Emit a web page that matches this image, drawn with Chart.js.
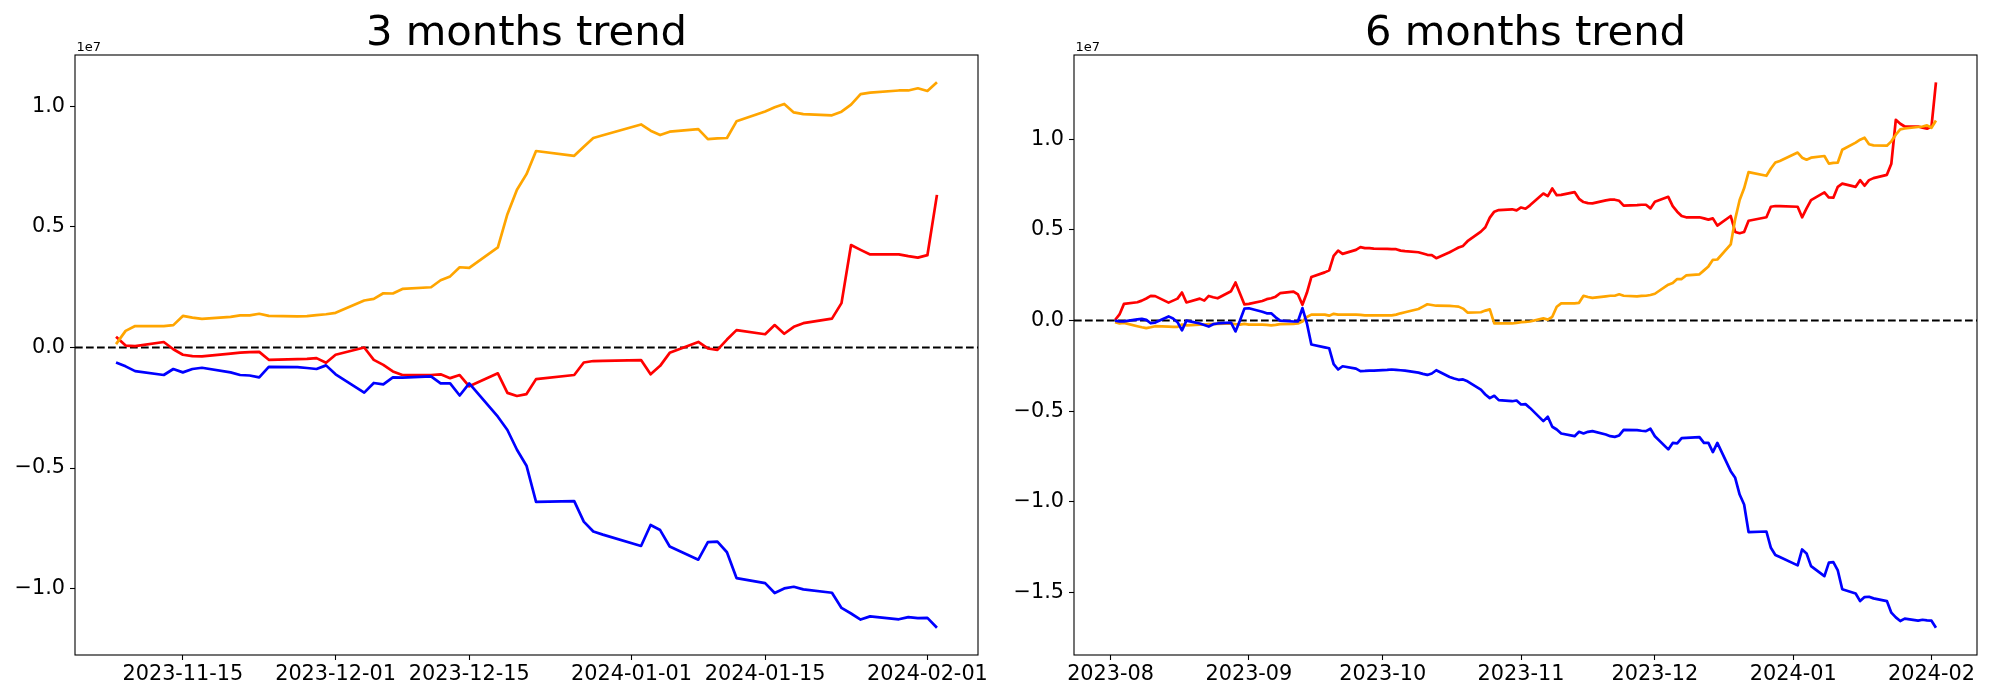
<!DOCTYPE html>
<html>
<head>
<meta charset="utf-8">
<title>trend</title>
<script src="https://cdn.jsdelivr.net/npm/chart.js@4.4.1/dist/chart.umd.min.js"></script>
<style>
  html, body { margin: 0; padding: 0; background: #fff; }
  #wrap { position: relative; width: 2000px; height: 700px; }
  .box { position: absolute; top: 0; width: 1000px; height: 700px; }
  canvas { display: block; }
</style>
</head>
<body>
<div id="wrap">
  <div class="box" style="left:0px"><canvas id="chart3m" width="1000" height="700"></canvas></div>
  <div class="box" style="left:1000px"><canvas id="chart6m" width="1000" height="700"></canvas></div>
</div>
<script>
// values are in units of 1e7

// ---- 3 months ----
const dates3m = [
  "2023-11-08","2023-11-09","2023-11-10","2023-11-13","2023-11-14","2023-11-15","2023-11-16","2023-11-17",
  "2023-11-20","2023-11-21","2023-11-22","2023-11-23","2023-11-24","2023-11-27","2023-11-28","2023-11-29","2023-11-30",
  "2023-12-01","2023-12-04","2023-12-05","2023-12-06","2023-12-07","2023-12-08","2023-12-11","2023-12-12","2023-12-13",
  "2023-12-14","2023-12-15","2023-12-18","2023-12-19","2023-12-20","2023-12-21","2023-12-22","2023-12-26","2023-12-27",
  "2023-12-28","2023-12-29",
  "2024-01-02","2024-01-03","2024-01-04","2024-01-05","2024-01-08","2024-01-09","2024-01-10","2024-01-11","2024-01-12",
  "2024-01-15","2024-01-16","2024-01-17","2024-01-18","2024-01-19","2024-01-22","2024-01-23","2024-01-24","2024-01-25",
  "2024-01-26","2024-01-29","2024-01-30","2024-01-31","2024-02-01","2024-02-02"
];
const orange3m = [
  0.014, 0.069, 0.089, 0.089, 0.093, 0.131, 0.124, 0.119, 0.127, 0.133, 0.133, 0.140, 0.131, 0.129, 0.130, 0.134, 0.138,
  0.144, 0.195, 0.202, 0.225, 0.224, 0.243, 0.250, 0.279, 0.295, 0.333, 0.330, 0.415, 0.553, 0.654, 0.719, 0.815, 0.795,
  0.833, 0.869, 0.880,
  0.925, 0.899, 0.881, 0.895, 0.906, 0.864, 0.867, 0.869, 0.938, 0.979, 0.996, 1.010, 0.975, 0.968, 0.963, 0.978, 1.007,
  1.051, 1.057, 1.066, 1.066, 1.075, 1.064, 1.100
];
const red3m = [
  0.045, 0.008, 0.006, 0.023, -0.007, -0.030, -0.036, -0.037, -0.025, -0.021, -0.019, -0.018, -0.051, -0.048, -0.047, -0.044, -0.063,
  -0.030, 0.000, -0.051, -0.072, -0.099, -0.114, -0.114, -0.111, -0.127, -0.114, -0.161, -0.107, -0.188, -0.201, -0.193, -0.131, -0.114,
  -0.062, -0.056, -0.055,
  -0.052, -0.111, -0.076, -0.022, 0.023, -0.004, -0.010, 0.033, 0.072, 0.055, 0.093, 0.057, 0.086, 0.101, 0.120, 0.184, 0.425,
  0.405, 0.386, 0.386, 0.379, 0.373, 0.383, 0.633
];
const blue3m = [
  -0.062, -0.078, -0.098, -0.114, -0.089, -0.103, -0.089, -0.084, -0.103, -0.114, -0.116, -0.124, -0.080, -0.081, -0.085, -0.089, -0.074,
  -0.111, -0.187, -0.147, -0.153, -0.124, -0.125, -0.120, -0.149, -0.149, -0.199, -0.149, -0.287, -0.342, -0.424, -0.490, -0.640, -0.637,
  -0.722, -0.763, -0.776,
  -0.823, -0.736, -0.757, -0.825, -0.880, -0.807, -0.805, -0.849, -0.956, -0.977, -1.018, -0.999, -0.992, -1.003, -1.017, -1.080, -1.103,
  -1.128, -1.115, -1.127, -1.118, -1.122, -1.121, -1.162
];
const xTicks3m = ["2023-11-15", "2023-12-01", "2023-12-15", "2024-01-01", "2024-01-15", "2024-02-01"];
const yTicks3m = [-1.0, -0.5, 0.0, 0.5, 1.0];

// ---- 6 months ----
const dates6m = [
  "2023-08-02","2023-08-03","2023-08-04","2023-08-07","2023-08-08","2023-08-09","2023-08-10","2023-08-11","2023-08-14","2023-08-15",
  "2023-08-16","2023-08-17","2023-08-18","2023-08-21","2023-08-22","2023-08-23","2023-08-24","2023-08-25","2023-08-28","2023-08-29",
  "2023-08-30","2023-08-31",
  "2023-09-01","2023-09-04","2023-09-05","2023-09-06","2023-09-07","2023-09-08","2023-09-11","2023-09-12","2023-09-13","2023-09-14",
  "2023-09-15","2023-09-18","2023-09-19","2023-09-20","2023-09-21","2023-09-22","2023-09-25","2023-09-26","2023-09-27","2023-09-28",
  "2023-09-29",
  "2023-10-02","2023-10-03","2023-10-04","2023-10-05","2023-10-06","2023-10-09","2023-10-10","2023-10-11","2023-10-12","2023-10-13",
  "2023-10-16","2023-10-17","2023-10-18","2023-10-19","2023-10-20","2023-10-23","2023-10-24","2023-10-25","2023-10-26","2023-10-27",
  "2023-10-30","2023-10-31",
  "2023-11-01","2023-11-02","2023-11-03","2023-11-06","2023-11-07","2023-11-08","2023-11-09","2023-11-10","2023-11-13","2023-11-14",
  "2023-11-15","2023-11-16","2023-11-17","2023-11-20","2023-11-21","2023-11-22","2023-11-23","2023-11-24","2023-11-27","2023-11-28",
  "2023-11-29","2023-11-30",
  "2023-12-01","2023-12-04","2023-12-05","2023-12-06","2023-12-07","2023-12-08","2023-12-11","2023-12-12","2023-12-13","2023-12-14",
  "2023-12-15","2023-12-18","2023-12-19","2023-12-20","2023-12-21","2023-12-22","2023-12-26","2023-12-27","2023-12-28","2023-12-29",
  "2024-01-02","2024-01-03","2024-01-04","2024-01-05","2024-01-08","2024-01-09","2024-01-10","2024-01-11","2024-01-12","2024-01-15",
  "2024-01-16","2024-01-17","2024-01-18","2024-01-19","2024-01-22","2024-01-23","2024-01-24","2024-01-25","2024-01-26","2024-01-29",
  "2024-01-30","2024-01-31","2024-02-01","2024-02-02"
];
const orange6m = [
  -0.009, -0.016, -0.013, -0.031, -0.037, -0.042, -0.037, -0.031, -0.033, -0.035,
  -0.035, -0.022, -0.026, -0.022, -0.022, -0.020, -0.020, -0.018, -0.016, -0.020,
  -0.022, -0.018,
  -0.022, -0.022, -0.024, -0.027, -0.024, -0.020, -0.018, -0.016, -0.005, 0.020,
  0.033, 0.033, 0.027, 0.037, 0.033, 0.033, 0.033, 0.031, 0.029, 0.029,
  0.029,
  0.029, 0.029, 0.033, 0.040, 0.046, 0.064, 0.077, 0.090, 0.086, 0.082,
  0.081, 0.079, 0.077, 0.066, 0.044, 0.046, 0.055, 0.062, -0.015, -0.016,
  -0.016, -0.013,
  -0.009, -0.007, -0.005, 0.012, 0.005, 0.021, 0.076, 0.095, 0.095, 0.098,
  0.137, 0.130, 0.125, 0.134, 0.137, 0.137, 0.145, 0.137, 0.134, 0.136,
  0.137, 0.141,
  0.148, 0.198, 0.207, 0.229, 0.229, 0.249, 0.255, 0.277, 0.299, 0.335,
  0.337, 0.420, 0.560, 0.665, 0.730, 0.819, 0.799, 0.839, 0.872, 0.881,
  0.927, 0.899, 0.888, 0.899, 0.908, 0.866, 0.870, 0.872, 0.943, 0.982,
  0.998, 1.009, 0.973, 0.967, 0.965, 0.989, 1.026, 1.055, 1.060, 1.068,
  1.071, 1.077, 1.064, 1.104
];
const red6m = [
  0.003, 0.034, 0.092, 0.101, 0.110, 0.122, 0.136, 0.135, 0.099, 0.110,
  0.121, 0.155, 0.100, 0.121, 0.110, 0.136, 0.129, 0.123, 0.162, 0.210,
  0.149, 0.089,
  0.092, 0.108, 0.118, 0.123, 0.132, 0.151, 0.160, 0.144, 0.087, 0.153,
  0.240, 0.266, 0.277, 0.357, 0.386, 0.368, 0.390, 0.405, 0.400, 0.400,
  0.397,
  0.396, 0.394, 0.394, 0.386, 0.383, 0.377, 0.370, 0.363, 0.361, 0.344,
  0.377, 0.390, 0.403, 0.412, 0.438, 0.491, 0.515, 0.568, 0.601, 0.610,
  0.614, 0.608,
  0.624, 0.617, 0.636, 0.701, 0.687, 0.729, 0.692, 0.694, 0.709, 0.672,
  0.654, 0.648, 0.647, 0.663, 0.667, 0.667, 0.661, 0.634, 0.637, 0.639,
  0.639, 0.619,
  0.656, 0.683, 0.632, 0.601, 0.577, 0.570, 0.570, 0.564, 0.557, 0.564,
  0.524, 0.577, 0.489, 0.482, 0.489, 0.551, 0.570, 0.628, 0.632, 0.632,
  0.628, 0.570, 0.619, 0.665, 0.707, 0.679, 0.678, 0.738, 0.756, 0.738,
  0.775, 0.744, 0.775, 0.786, 0.804, 0.866, 1.108, 1.086, 1.071, 1.071,
  1.064, 1.059, 1.071, 1.315
];
const blue6m = [
  0.000, -0.005, -0.004, 0.007, 0.009, 0.004, -0.015, -0.011, 0.023, 0.011,
  -0.009, -0.054, 0.000, -0.016, -0.024, -0.033, -0.020, -0.016, -0.011, -0.060,
  0.000, 0.066,
  0.068, 0.049, 0.040, 0.040, 0.018, 0.000, -0.005, -0.004, 0.069, -0.015,
  -0.132, -0.148, -0.153, -0.240, -0.270, -0.252, -0.265, -0.279, -0.278, -0.276,
  -0.276,
  -0.272, -0.270, -0.272, -0.274, -0.276, -0.287, -0.294, -0.300, -0.292, -0.274,
  -0.311, -0.320, -0.327, -0.325, -0.335, -0.381, -0.408, -0.428, -0.415, -0.439,
  -0.445, -0.441,
  -0.463, -0.461, -0.482, -0.555, -0.531, -0.586, -0.601, -0.623, -0.638, -0.614,
  -0.623, -0.614, -0.610, -0.629, -0.638, -0.642, -0.634, -0.603, -0.605, -0.608,
  -0.610, -0.597,
  -0.638, -0.711, -0.675, -0.678, -0.649, -0.647, -0.643, -0.675, -0.675, -0.726,
  -0.675, -0.831, -0.868, -0.960, -1.015, -1.167, -1.164, -1.254, -1.294, -1.305,
  -1.351, -1.263, -1.285, -1.355, -1.410, -1.336, -1.333, -1.379, -1.483, -1.506,
  -1.548, -1.526, -1.524, -1.533, -1.548, -1.612, -1.638, -1.658, -1.645, -1.656,
  -1.651, -1.654, -1.656, -1.695
];
const xTicks6m = ["2023-08", "2023-09", "2023-10", "2023-11", "2023-12", "2024-01", "2024-02"];
const yTicks6m = [-1.5, -1.0, -0.5, 0.0, 0.5, 1.0];

const FONT = "'DejaVu Sans', 'Liberation Sans', sans-serif";
const DAY = 86400000;

function dayNum(s) {
    const p = s.split("-").map(Number);
    return Date.UTC(p[0], p[1] - 1, p.length > 2 ? p[2] : 1) / DAY;
}

function fmtY(v) {
    const s = Math.abs(v).toFixed(1);
    return v < 0 ? "\u2212" + s : s;
}

// frame around the plot, dashed zero line, and the 1e7 offset text
const framePlugin = {
    id: "frame",
    beforeDatasetsDraw(chart) {
        const ctx = chart.ctx, a = chart.chartArea;
        const y0 = chart.scales.y.getPixelForValue(0);
        ctx.save();
        ctx.strokeStyle = "#000";
        ctx.lineWidth = 2.1;
        ctx.setLineDash([7.7, 3.3]);
        ctx.beginPath();
        ctx.moveTo(a.left, y0);
        ctx.lineTo(a.right, y0);
        ctx.stroke();
        ctx.restore();
    },
    afterDraw(chart) {
        const ctx = chart.ctx, a = chart.chartArea;
        ctx.save();
        ctx.strokeStyle = "#000";
        ctx.lineWidth = 1.1;
        ctx.strokeRect(a.left, a.top, a.right - a.left, a.bottom - a.top);
        ctx.fillStyle = "#000";
        ctx.font = "13px " + FONT;
        ctx.textAlign = "left";
        ctx.textBaseline = "alphabetic";
        ctx.fillText("1e7", a.left + 1.5, a.top - 4.5);
        ctx.restore();
    }
};

function makeChart(id, title, dates, series, xTickLabels, yTicks, area) {
    const xs = dates.map(dayNum);
    const xSpan = xs[xs.length - 1] - xs[0];
    const allY = [].concat(...series.map(s => s.values));
    const yMax = Math.max(...allY), yMin = Math.min(...allY);
    const ySpan = yMax - yMin;

    const xTickVals = xTickLabels.map(dayNum);
    const xLabelOf = {};
    xTickVals.forEach((v, i) => { xLabelOf[v] = xTickLabels[i]; });

    return new Chart(document.getElementById(id).getContext("2d"), {
        type: "line",
        data: {
            datasets: series.map(s => ({
                label: s.label,
                data: s.values.map((v, i) => ({ x: xs[i], y: v })),
                borderColor: s.color,
                backgroundColor: s.color,
                borderWidth: 2.7,
                pointRadius: 0,
                tension: 0,
                fill: false,
                borderJoinStyle: "round",
                order: s.order
            }))
        },
        options: {
            responsive: false,
            animation: false,
            events: [],
            layout: { padding: { left: 0, right: 1000 - area.right, top: 0, bottom: 0 } },
            plugins: {
                legend: { display: false },
                tooltip: { enabled: false },
                title: {
                    display: true,
                    text: title,
                    fullSize: false,
                    color: "#000",
                    font: { family: FONT, size: 41.7, weight: "normal", lineHeight: 1 },
                    padding: { top: 13, bottom: area.top - 13 - 41.7 }
                }
            },
            scales: {
                x: {
                    type: "linear",
                    min: xs[0] - 0.05 * xSpan,
                    max: xs[xs.length - 1] + 0.05 * xSpan,
                    afterBuildTicks: axis => { axis.ticks = xTickVals.map(v => ({ value: v })); },
                    afterFit: axis => { axis.height = 700 - area.bottom; },
                    border: { display: false },
                    grid: { display: true, drawOnChartArea: false, drawTicks: true, tickLength: 5, tickColor: "#000", tickWidth: 1.1 },
                    ticks: {
                        autoSkip: false,
                        maxRotation: 0,
                        padding: 2,
                        color: "#000",
                        font: { family: FONT, size: 20.8 },
                        callback: v => xLabelOf[v] || ""
                    }
                },
                y: {
                    type: "linear",
                    min: yMin - 0.05 * ySpan,
                    max: yMax + 0.05 * ySpan,
                    afterBuildTicks: axis => { axis.ticks = yTicks.map(v => ({ value: v })); },
                    afterFit: axis => { axis.width = area.left; },
                    border: { display: false },
                    grid: { display: true, drawOnChartArea: false, drawTicks: true, tickLength: 5, tickColor: "#000", tickWidth: 1.1 },
                    ticks: {
                        padding: 5,
                        color: "#000",
                        font: { family: FONT, size: 20.8 },
                        callback: v => fmtY(v)
                    }
                }
            }
        },
        plugins: [framePlugin]
    });
}

makeChart("chart3m", "3 months trend", dates3m, [
    { label: "orange", color: "orange", values: orange3m, order: 2 },
    { label: "red", color: "red", values: red3m, order: 3 },
    { label: "blue", color: "blue", values: blue3m, order: 1 }
], xTicks3m, yTicks3m, { left: 75, right: 978, top: 55, bottom: 655 });

makeChart("chart6m", "6 months trend", dates6m, [
    { label: "orange", color: "orange", values: orange6m, order: 2 },
    { label: "red", color: "red", values: red6m, order: 3 },
    { label: "blue", color: "blue", values: blue6m, order: 1 }
], xTicks6m, yTicks6m, { left: 74, right: 977, top: 55, bottom: 655 });
</script>
</body>
</html>
